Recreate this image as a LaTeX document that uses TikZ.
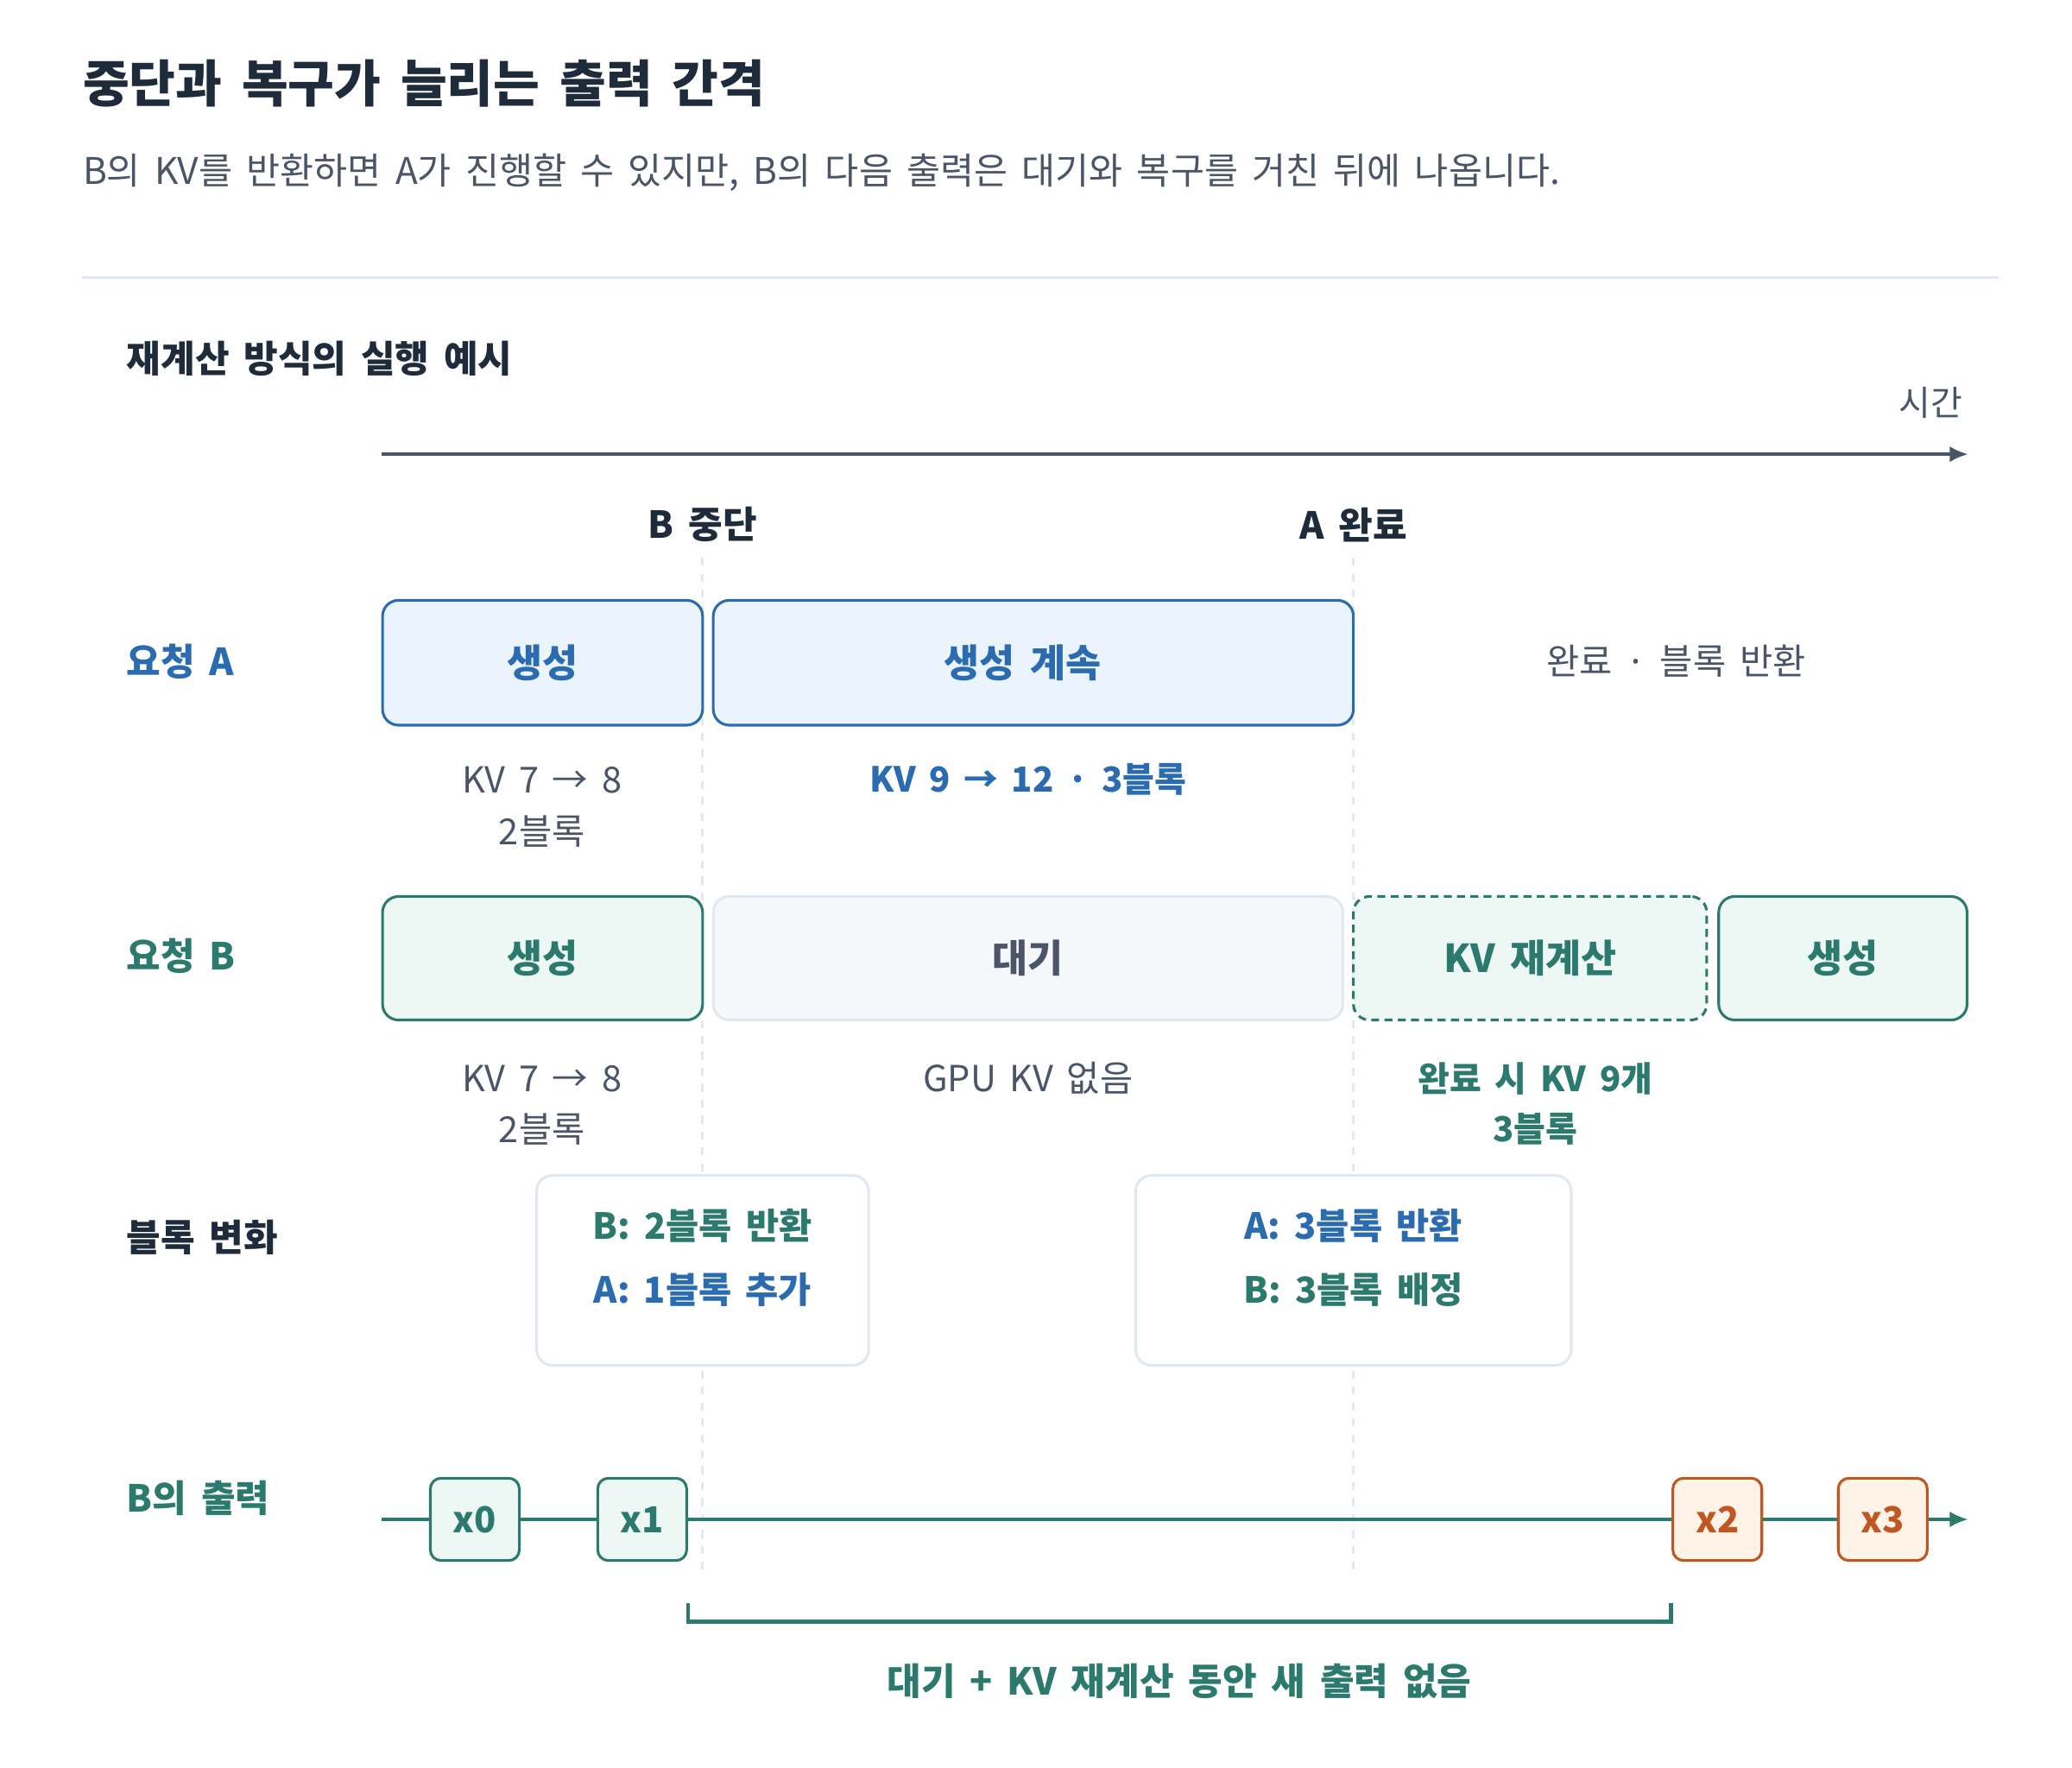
\documentclass[tikz,border=0pt]{standalone}
\usepackage{fontspec}
\setmainfont{Noto Sans CJK KR}[WordSpace=1.7]
\usetikzlibrary{arrows.meta}
\definecolor{ink}{HTML}{1E2B3A}
\definecolor{slate}{HTML}{4A5568}
\definecolor{rulegray}{HTML}{E2E8F0}
\definecolor{blueA}{HTML}{2B6CB0}
\definecolor{blueFill}{HTML}{EBF4FD}
\definecolor{tealB}{HTML}{2C7A6E}
\definecolor{tealFill}{HTML}{EDF7F4}
\definecolor{grayFill}{HTML}{F5F7FA}
\definecolor{orangeC}{HTML}{C05621}
\definecolor{orangeFill}{HTML}{FEF3E6}
\tikzset{
  txt/.style={inner sep=0pt, font=\fontsize{13.5pt}{16pt}\selectfont},
  btxt/.style={inner sep=0pt, font=\fontsize{13.5pt}{16pt}\selectfont\bfseries},
  lbl/.style={inner sep=0pt, font=\fontsize{14pt}{17pt}\selectfont\bfseries},
  boxbase/.style={rounded corners=6pt, line width=1pt, inner sep=0pt},
  aBox/.style={boxbase, draw=blueA, fill=blueFill, text=blueA, font=\fontsize{14.5pt}{17pt}\selectfont\bfseries},
  bBox/.style={boxbase, draw=tealB, fill=tealFill, text=tealB, font=\fontsize{14.5pt}{17pt}\selectfont\bfseries},
  waitBox/.style={boxbase, draw=rulegray, fill=grayFill, text=slate, font=\fontsize{14.5pt}{17pt}\selectfont\bfseries},
  chgBox/.style={boxbase, draw=rulegray, fill=white},
  tokB/.style={boxbase, rounded corners=4pt, draw=tealB, fill=tealFill, text=tealB, minimum width=33.5pt, minimum height=31pt, font=\fontsize{13.5pt}{15pt}\selectfont\bfseries},
  tokO/.style={tokB, draw=orangeC, fill=orangeFill, text=orangeC},
  guide/.style={draw=rulegray, line width=1pt, dash pattern=on 3pt off 3pt},
}
\begin{document}
\begin{tikzpicture}[x=0.5pt,y=-0.5pt]
\useasboundingbox[fill=white] (0,0) rectangle (1560,1331.2);

% header
\node[anchor=west, inner sep=0pt, text=ink, font=\fontsize{19pt}{22pt}\selectfont\bfseries] (title) at (62,63) {중단과 복구가 늘리는 출력 간격};
\node[anchor=west, inner sep=0pt, text=slate, font=\fontsize{13.8pt}{16pt}\selectfont] (sub) at (62,130) {B의 KV를 반환하면 A가 진행할 수 있지만, B의 다음 출력은 대기와 복구를 거친 뒤에 나옵니다.};
\coordinate (r1) at (62,209);
\coordinate (r2) at (1505,209);
\draw[rulegray, line width=1pt] (r1) -- (r2);

\node[anchor=west, lbl, text=ink] (sect) at (95,270) {재계산 방식의 실행 예시};
\node[anchor=east, txt, text=slate, font=\fontsize{13pt}{15pt}\selectfont] (time) at (1478,303) {시간};
\coordinate (ax1) at (287,342);
\coordinate (ax2) at (1482,342);
\draw[slate, line width=1.5pt, -{Latex[length=7pt,width=6pt]}] (ax1) -- (ax2);

% event markers
\node[lbl, text=ink] (evB) at (529,395) {B 중단};
\node[lbl, text=ink] (evA) at (1019,395) {A 완료};
\coordinate (g1t) at (529,420);
\coordinate (g1b) at (529,1187);
\coordinate (g2t) at (1019,420);
\coordinate (g2b) at (1019,1187);
\draw[guide] (g1t) -- (g1b);
\draw[guide] (g2t) -- (g2b);

% row labels
\node[anchor=west, lbl, text=blueA] (labA) at (95,498) {요청 A};
\node[anchor=west, lbl, text=tealB] (labB) at (95,720) {요청 B};
\node[anchor=west, lbl, text=ink] (labC) at (95,932) {블록 변화};
\node[anchor=west, lbl, text=tealB] (labD) at (95,1128) {B의 출력};

% request A
\node[aBox, minimum width=120.5pt, minimum height=47pt] (a1) at (408.5,499) {생성};
\node[aBox, minimum width=241pt, minimum height=47pt] (a2) at (778,499) {\hspace*{-8pt}생성 계속};
\node[txt, text=slate] (a3) at (1262,498) {완료 · 블록 반환};
\node[txt, text=slate] (a1n1) at (408,587) {KV 7 → 8};
\node[txt, text=slate] (a1n2) at (408,626) {2블록};
\node[btxt, text=blueA, font=\fontsize{13pt}{16pt}\selectfont\bfseries] (a2n) at (774,587) {KV 9 → 12 · 3블록};

% request B
\node[bBox, minimum width=120.5pt, minimum height=46.5pt] (b1) at (408.5,721.5) {생성};
\node[waitBox, minimum width=237pt, minimum height=46.5pt] (b2) at (774,721.5) {대기};
\node[bBox, dashed, dash pattern=on 3pt off 2pt, minimum width=133pt, minimum height=46.5pt] (b3) at (1152,721.5) {KV 재계산};
\node[bBox, minimum width=93.5pt, minimum height=46.5pt] (b4) at (1387.5,721.5) {생성};
\node[txt, text=slate] (b1n1) at (408,812) {KV 7 → 8};
\node[txt, text=slate] (b1n2) at (408,850) {2블록};
\node[txt, text=slate] (b2n) at (774,812) {GPU KV 없음};
\node[btxt, text=tealB, font=\fontsize{13pt}{16pt}\selectfont\bfseries] (b3n1) at (1156,812) {완료 시 KV 9개};
\node[btxt, text=tealB, font=\fontsize{13pt}{16pt}\selectfont\bfseries] (b3n2) at (1156,850) {3블록};

% block changes
\node[chgBox, minimum width=125pt, minimum height=71.5pt] (c1) at (529,956.5) {};
\node[chgBox, minimum width=164pt, minimum height=71.5pt] (c2) at (1019,956.5) {};
\node[btxt, text=tealB] (c1a) at (529,923) {B: 2블록 반환};
\node[btxt, text=blueA] (c1b) at (529,971) {A: 1블록 추가};
\node[btxt, text=blueA] (c2a) at (1019,923) {A: 3블록 반환};
\node[btxt, text=tealB] (c2b) at (1019,971) {B: 3블록 배정};

% output of B
\node[tokB] (x0) at (357.5,1144) {x0};
\node[tokB] (x1) at (483.5,1144) {x1};
\node[tokO] (x2) at (1293,1144) {x2};
\node[tokO] (x3) at (1417.5,1144) {x3};
\coordinate (o1) at (287,1144);
\coordinate (o2) at (1482,1144);
\begin{scope}[tealB, line width=1.5pt]
\draw (o1) -- (x0);
\draw (x0) -- (x1);
\draw (x1) -- (x2);
\draw (x2) -- (x3);
\draw[-{Latex[length=7pt,width=6pt]}] (x3) -- (o2);
\end{scope}

% gap brace
\coordinate (br1) at (518,1207);
\coordinate (br2) at (518,1221);
\coordinate (br3) at (1258,1221);
\coordinate (br4) at (1258,1207);
\draw[tealB, line width=1.5pt] (br1) -- (br2) -- (br3) -- (br4);
\node[lbl, text=tealB] (gap) at (888,1266) {대기 + KV 재계산 동안 새 출력 없음};
\end{tikzpicture}
\end{document}
